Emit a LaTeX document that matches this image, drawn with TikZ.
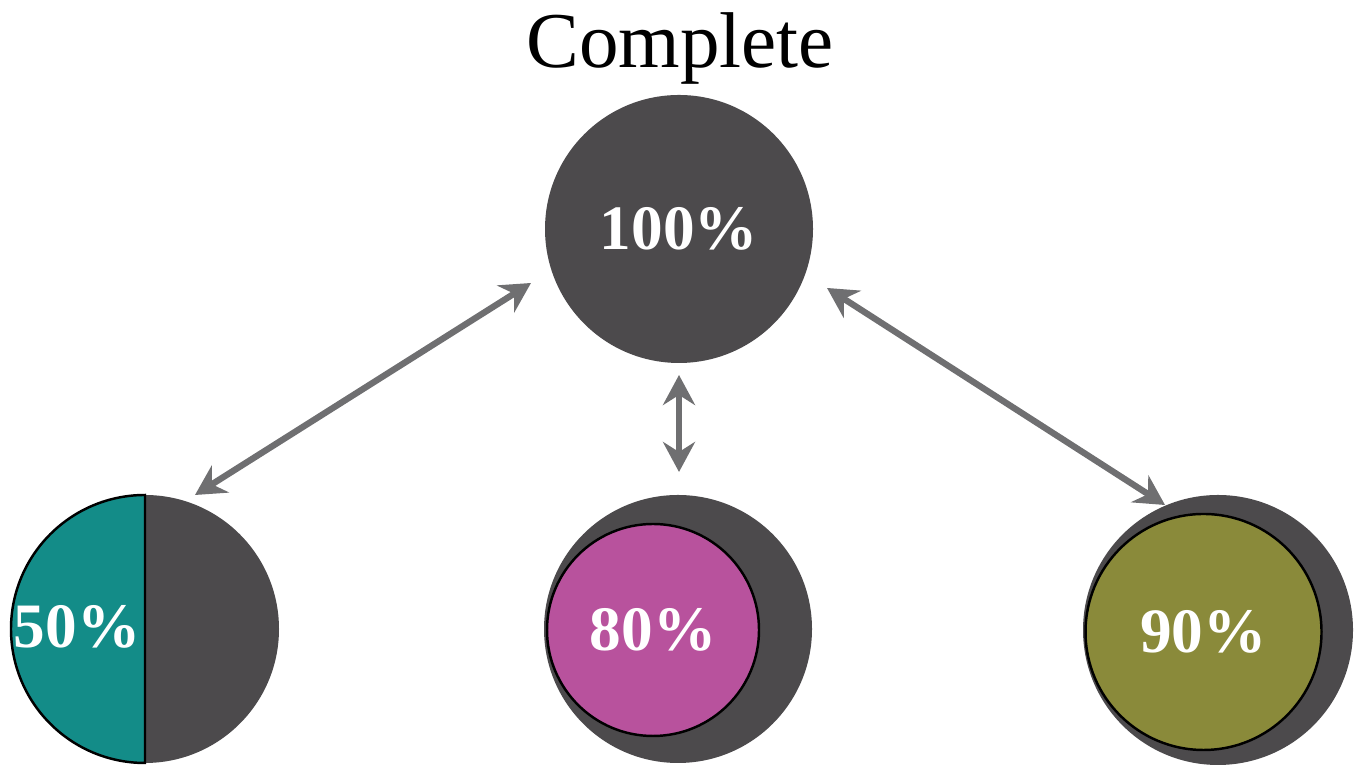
\documentclass[tikz,border=0pt]{standalone}
\usepackage{fontspec}
\setmainfont{Liberation Serif}
\usetikzlibrary{positioning,arrows.meta}
\definecolor{discgray}{HTML}{4C4A4C}
\definecolor{linkgray}{HTML}{6F6F71}
\definecolor{tealhalf}{HTML}{138C88}
\definecolor{pinkpart}{HTML}{B8529D}
\definecolor{olivepart}{HTML}{8A8A3A}
\tikzset{
  disc/.style={circle, fill=discgray, minimum size=2.68cm, inner sep=0pt, outer sep=0pt},
  part/.style={circle, draw=black, line width=0.7pt, inner sep=0pt, outer sep=0pt},
  pct/.style={text=white, font=\fontsize{18}{20}\selectfont\bfseries},
  link/.style={{Stealth[length=0.3cm,width=0.32cm,inset=0.1cm]}-{Stealth[length=0.3cm,width=0.32cm,inset=0.1cm]},
    draw=linkgray, line width=1.8pt},
}
\begin{document}
\begin{tikzpicture}
\useasboundingbox (0,0) rectangle (13.6,7.66);
\node[disc, pct] at (6.79,5.37) (full) {100\%};
\node[font=\fontsize{22.5}{26}\selectfont, anchor=base] at (6.80,6.98) (title) {Complete};

\node[disc] at (1.45,1.37) (half) {};
\fill[tealhalf, draw=black, line width=0.7pt] (half.north) arc[start angle=90, end angle=270, radius=1.34cm] -- cycle;
\node[pct] at (0.77,1.39) (p50) {50\%};

\node[disc] at (6.78,1.37) (ring80) {};
\node[part, pct, fill=pinkpart, minimum size=2.12cm] at (6.53,1.36) (p80) {80\%};

\node[disc, minimum size=2.7cm] at (12.18,1.36) (ring90) {};
\node[part, pct, fill=olivepart, minimum size=2.36cm] at (12.035,1.34) (p90) {90\%};

\coordinate (l1) at (5.31,4.83);
\coordinate (l2) at (1.95,2.71);
\coordinate (m1) at (6.79,3.91);
\coordinate (m2) at (6.79,2.94);
\coordinate (r1) at (8.27,4.78);
\coordinate (r2) at (11.65,2.61);

\draw[link] (l1) -- (l2);
\draw[link] (m1) -- (m2);
\draw[link] (r1) -- (r2);
\end{tikzpicture}
\end{document}
